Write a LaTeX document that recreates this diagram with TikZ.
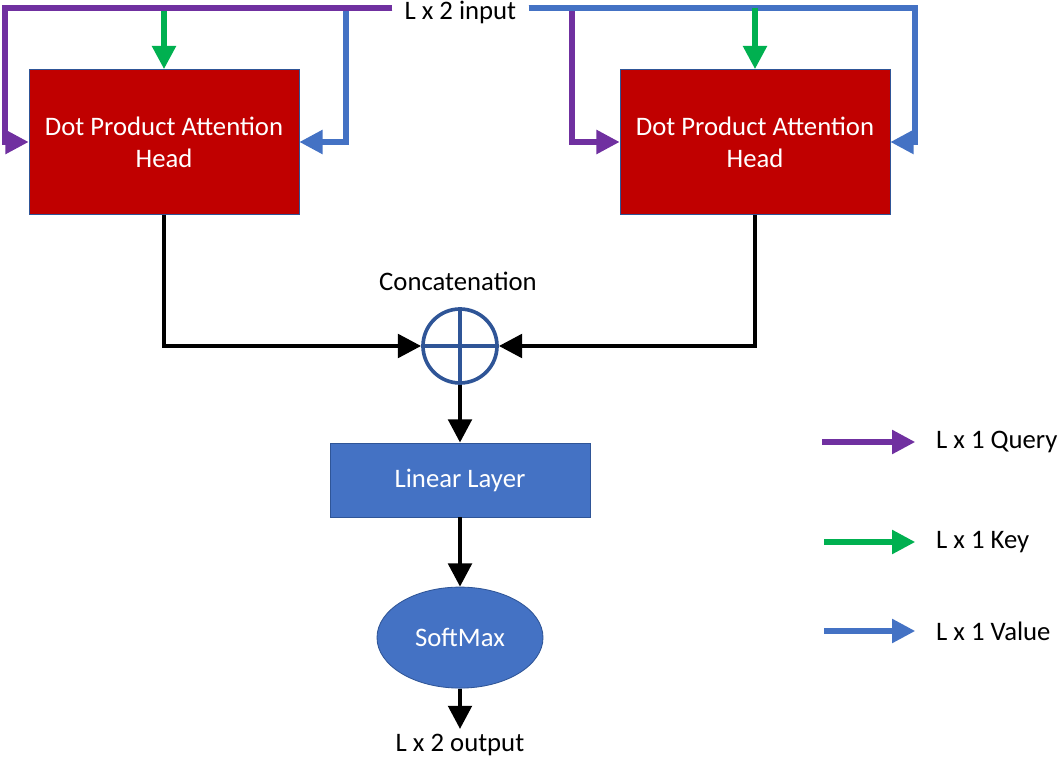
\documentclass[tikz,border=0pt]{standalone}
\usepackage{fontspec}
\setmainfont{Carlito}
\usetikzlibrary{shapes}
\usetikzlibrary{arrows.meta}
\usetikzlibrary{positioning}

\definecolor{querycol}{HTML}{7030A0}
\definecolor{keycol}{HTML}{00B050}
\definecolor{valuecol}{HTML}{4472C4}
\definecolor{headred}{HTML}{C00000}
\definecolor{layerblue}{HTML}{4472C4}
\definecolor{sumblue}{HTML}{2F5597}

\begin{document}
\begin{tikzpicture}[>={Triangle[length=0.58cm,width=0.58cm]},font=\fontsize{19}{22.8}\selectfont,
  head node/.style={rectangle,fill=headred,draw=sumblue,line width=0.6pt,text=white,align=center,minimum width=6.75cm,minimum height=3.625cm},
  layer node/.style={rectangle,fill=layerblue,draw=sumblue,line width=0.6pt,text=white,minimum width=6.5cm,minimum height=1.85cm},
  soft node/.style={ellipse,fill=layerblue,draw=sumblue,line width=0.6pt,text=white,minimum width=4.15cm,minimum height=2.525cm,inner sep=0pt},
  sum node/.style={circle,draw=sumblue,line width=2.6pt,minimum size=1.85cm,inner sep=0pt},
  query line/.style={->,draw=querycol,line width=3.6pt},
  key line/.style={->,draw=keycol,line width=3.6pt},
  value line/.style={->,draw=valuecol,line width=3.6pt},
  flow line/.style={->,draw=black,line width=3.2pt},
  legend line/.style={shorten >=0.4cm}]

      \useasboundingbox (0,0) rectangle (26.55,-19);

      \node[text height=0.6cm,text depth=0cm,inner xsep=0.3cm,inner ysep=0pt] at (11.51,-0.2) (input) {L x 2 input};
      \node[head node] at (4.1,-3.55) (head1) {Dot Product Attention\\Head};
      \node[head node] at (18.875,-3.55) (head2) {Dot Product Attention\\Head};
      \node at (11.45,-7.03) (concatlabel) {Concatenation};
      \node[sum node] at (11.5,-8.65) (concat) {};
      \node[layer node] at (11.5,-12.0) (linear) {Linear Layer};
      \node[soft node] at (11.5,-15.94) (softmax) {SoftMax};
      \node at (11.5,-18.62) (output) {L x 2 output};

      % inputs of the left head
      \draw[value line] (input.west) -- (8.65,-0.2) |- (head1.east);
      \draw[key line] (head1.north |- input.west) -- (head1.north);
      \draw[query line] (input.west) -- (0.125,-0.2) |- (head1.west);

      % inputs of the right head
      \draw[query line] (input.east) -- (14.3,-0.2) |- (head2.west);
      \draw[value line] (input.east) -- (22.875,-0.2) |- (head2.east);
      \draw[key line] (head2.north |- input.east) -- (head2.north);

      \draw[sumblue,line width=2.6pt] (concat.north) -- (concat.south) (concat.west) -- (concat.east);

      \draw[flow line] (head1.south) |- (concat.west);
      \draw[flow line] (head2.south) |- (concat.east);
      \draw[flow line] (concat.south) -- (linear.north);
      \draw[flow line] (linear.south) -- (softmax.north);
      \draw[flow line] (softmax.south) -- (output.north);

      % legend
      \coordinate (qs) at (20.55,-11.05);
      \coordinate (ks) at (20.6,-13.55);
      \coordinate (vs) at (20.6,-15.775);
      \node[right=2.73cm of qs] (query) {L x 1 Query};
      \node[right=2.68cm of ks] (key) {L x 1 Key};
      \node[right=2.68cm of vs] (value) {L x 1 Value};
      \draw[query line,legend line] (qs) -- (query.west);
      \draw[key line,legend line] (ks) -- (key.west);
      \draw[value line,legend line] (vs) -- (value.west);

\end{tikzpicture}
\end{document}
